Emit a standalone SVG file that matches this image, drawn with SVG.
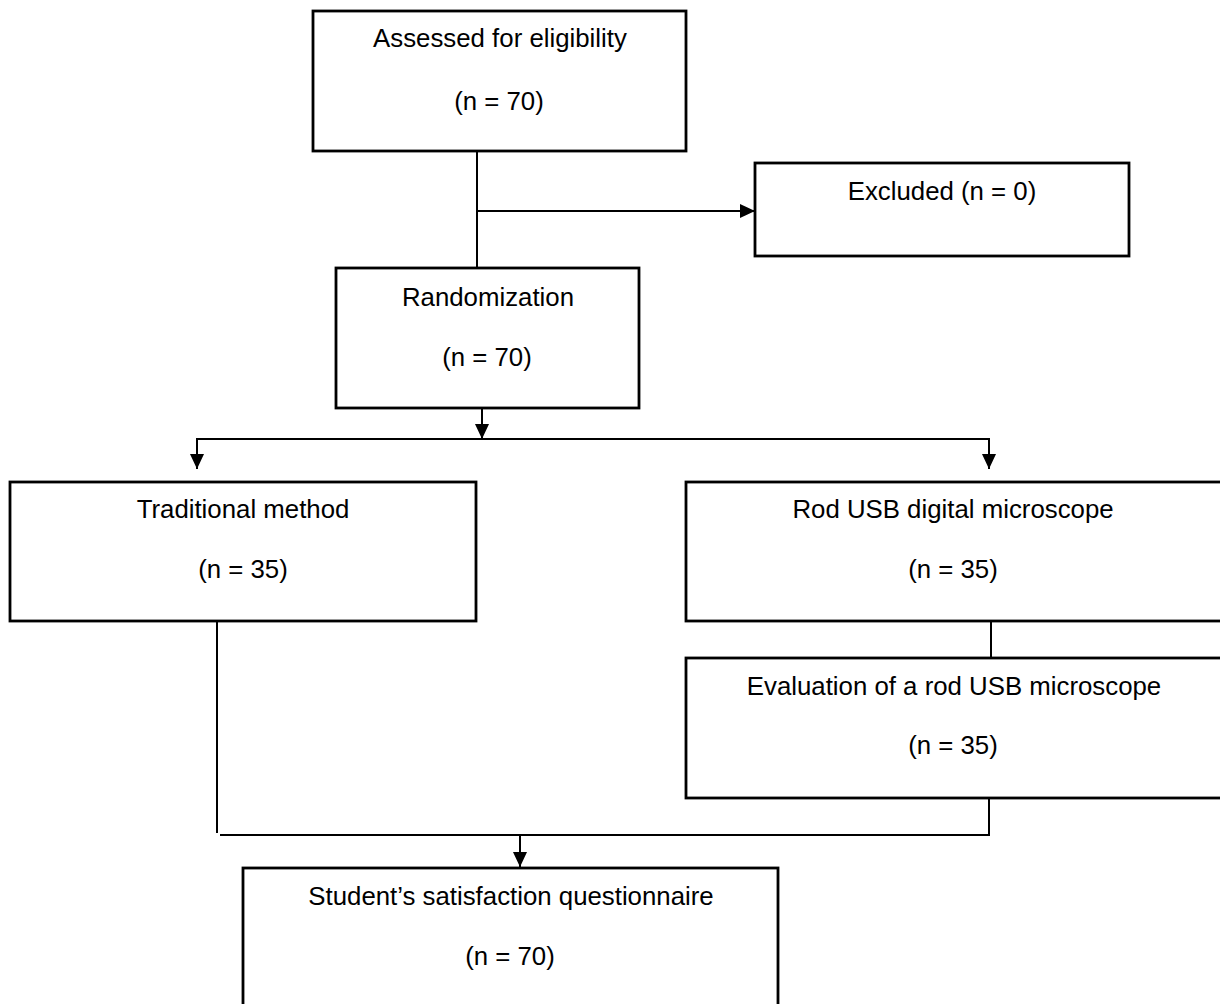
<svg xmlns="http://www.w3.org/2000/svg" width="1220" height="1004" viewBox="0 0 1220 1004">
<style>
.box{fill:#fff;stroke:#000;stroke-width:2.8}
.t{font-family:"Liberation Sans",Arial,sans-serif;font-size:25.8px;fill:#000;text-anchor:middle}
.c{fill:none;stroke:#000;stroke-width:2}
</style>
<defs>
<marker id="ah" markerWidth="15" markerHeight="14" refX="15" refY="7" orient="auto" markerUnits="userSpaceOnUse">
<path d="M0,0 L15,7 L0,14 Z" fill="#000"/>
</marker>
</defs>
<rect width="1220" height="1004" fill="#fff"/>
<g id="n1"><rect class="box" x="313" y="11" width="373" height="140"/>
<text class="t" x="500" y="47">Assessed for eligibility</text>
<text class="t" x="499" y="110">(n = 70)</text></g>
<g id="n2"><rect class="box" x="755" y="163" width="374" height="93"/>
<text class="t" x="942" y="200">Excluded (n = 0)</text></g>
<g id="n3"><rect class="box" x="336" y="268" width="303" height="140"/>
<text class="t" x="488" y="306">Randomization</text>
<text class="t" x="487" y="366">(n = 70)</text></g>
<g id="n4"><rect class="box" x="10" y="482" width="466" height="139"/>
<text class="t" x="243" y="518">Traditional method</text>
<text class="t" x="243" y="578">(n = 35)</text></g>
<g id="n5"><rect class="box" x="686" y="482" width="540" height="139"/>
<text class="t" x="953" y="518">Rod USB digital microscope</text>
<text class="t" x="953" y="578">(n = 35)</text></g>
<g id="n6"><rect class="box" x="686" y="658" width="540" height="140"/>
<text class="t" x="954" y="695">Evaluation of a rod USB microscope</text>
<text class="t" x="953" y="754">(n = 35)</text></g>
<g id="n7"><rect class="box" x="243" y="868" width="535" height="145"/>
<text class="t" x="511" y="905">Student’s satisfaction questionnaire</text>
<text class="t" x="510" y="965">(n = 70)</text></g>
<g id="connectors">
<path class="c" d="M477,152 V268"/>
<path class="c" d="M477,211 H755" marker-end="url(#ah)"/>
<path class="c" d="M482,409 V439" marker-end="url(#ah)"/>
<path class="c" d="M197,439 H989"/>
<path class="c" d="M197,438 V469" marker-end="url(#ah)"/>
<path class="c" d="M989,438 V469" marker-end="url(#ah)"/>
<path class="c" d="M991,622 V658"/>
<path class="c" d="M217,622 V833"/>
<path class="c" d="M220,835 H989 V799"/>
<path class="c" d="M520,835 V867" marker-end="url(#ah)"/>
</g>
</svg>
